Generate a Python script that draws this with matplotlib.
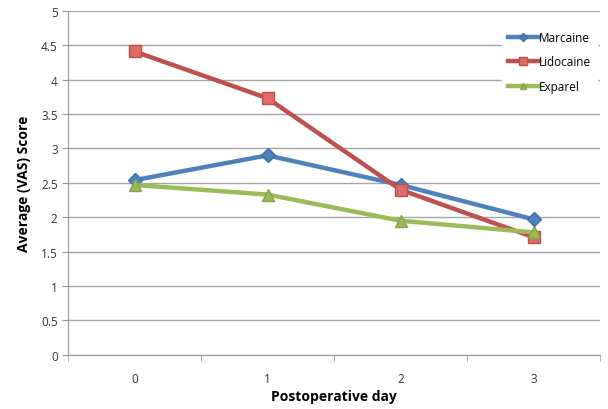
import matplotlib
matplotlib.use("Agg")
import matplotlib.pyplot as plt
from matplotlib.ticker import MultipleLocator, FixedLocator, NullFormatter

plt.rcParams['font.family'] = ['Open Sans', 'DejaVu Sans']

# data
days = ["0", "1", "2", "3"]
marcaine = [2.54, 2.90, 2.47, 1.97]
lidocaine = [4.41, 3.73, 2.40, 1.71]
exparel = [2.47, 2.33, 1.95, 1.78]

x = list(range(len(days)))

fig = plt.figure(figsize=(6.08, 4.10), dpi=100)
ax = fig.add_axes([0.112, 0.132, 0.875, 0.839])

ax.plot(x, marcaine, color="#4F81BD", lw=3.2, marker="D", ms=7,
        mfc="#4F81BD", mec="#3A6DAA", label="Marcaine", zorder=3)
ax.plot(x, lidocaine, color="#C0504D", lw=3.2, marker="s", ms=9,
        mfc="#E06A66", mec="#C0504D", label="Lidocaine", zorder=3)
ax.plot(x, exparel, color="#9BBB59", lw=3.2, marker="^", ms=8,
        mfc="#9BBB59", mec="#86A44A", label="Exparel", zorder=3)

ax.set_xlim(-0.5, 3.5)
ax.set_ylim(0, 5)
ax.yaxis.set_major_locator(MultipleLocator(0.5))
ax.set_yticklabels([f"{v:g}" for v in ax.get_yticks()])
ax.set_xticks(x)
ax.set_xticklabels(days)
ax.xaxis.set_minor_locator(FixedLocator([-0.5, 0.5, 1.5, 2.5, 3.5]))
ax.xaxis.set_minor_formatter(NullFormatter())
ax.tick_params(axis="x", which="major", length=0, pad=12, labelsize=8.5, colors="#333333")
ax.tick_params(axis="x", which="minor", length=4, color="#999999")
ax.tick_params(axis="y", length=4, color="#999999", labelsize=8.5, labelcolor="#333333")

ax.grid(axis="y", color="#A6A6A6", lw=1)
ax.set_axisbelow(True)
for s in ["top", "right"]:
    ax.spines[s].set_visible(False)
for s in ["left", "bottom"]:
    ax.spines[s].set_color("#999999")

ax.set_xlabel("Postoperative day", fontsize=10, fontweight="bold", labelpad=3)
ax.set_ylabel("Average (VAS) Score", fontsize=10, fontweight="bold", labelpad=7)

leg = ax.legend(loc="upper right", bbox_to_anchor=(1.0, 0.97), frameon=True,
                fontsize=8.5, handlelength=2.6, handletextpad=0.0,
                labelspacing=1.0, borderaxespad=0.3, borderpad=0.5,
                markerscale=0.6, fancybox=False)
leg.get_frame().set_edgecolor("white")
leg.get_frame().set_facecolor("white")
leg.get_frame().set_alpha(1)

fig.savefig("out.png", dpi=100)
